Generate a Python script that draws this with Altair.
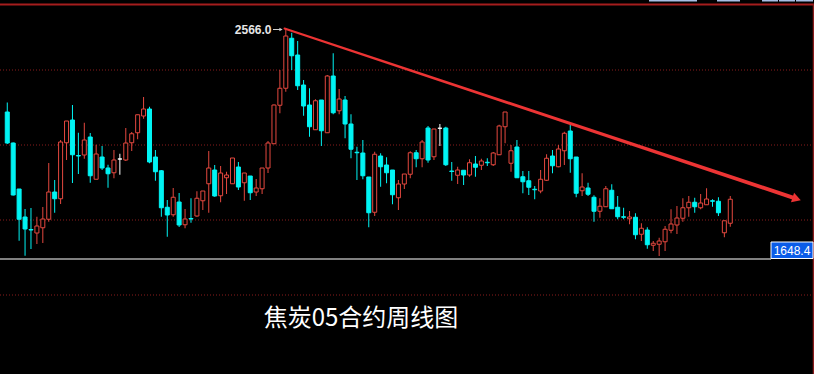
import altair as alt
import pandas as pd

# ---- data (weekly candles) ----
opens = [2232,2108,1924,1812,1762,1748,1769,1803,1912,1885,
         2109,2200,2058,2060,2132,1963,2052,2008,1989,2044,
         2040,2109,2149,2216,2244,2052,1997,1851,1821,1872,
         1781,1806,1816,1877,1945,2000,1897,1969,1945,2012,
         1949,1976,1912,1925,2008,2105,2259,2327,2527,2460,
         2340,2260,2161,2280,2149,2376,2237,2280,2184,2071,
         2068,1972,1831,2056,2020,2000,1889,1944,1983,2069,
         2045,2168,2053,2167,2168,1996,1979,1999,1980,2024,
         2019,2031,2021,2061,2173,2027,2092,1973,1957,1923,
         1916,1959,2056,2013,2077,2156,2052,1917,1928,1891,
         1835,1853,1919,1851,1813,1805,1811,1743,1760,1699,
         1703,1713,1759,1780,1807,1849,1871,1849,1861,1877,
         1875,1749,1787]
closes = [2108,1900,1803,1764,1760,1776,1804,1912,1885,2112,
          2196,2061,2056,2120,1977,2064,2008,1985,2040,2044,
          2108,2145,2221,2244,2032,1993,1849,1820,1891,1780,
          1804,1804,1887,1916,2008,1896,1988,1980,2048,1932,
          1988,1909,1928,2008,2108,2260,2327,2536,2457,2337,
          2256,2173,2277,2157,2376,2229,2284,2184,2083,2069,
          1977,1829,2063,2013,1989,1901,1944,1984,2069,2045,
          2112,2040,2164,2167,2021,1994,2000,1980,2029,2011,
          2036,2029,2068,2176,2232,2077,1969,1953,1931,1921,
          1963,2047,2017,2084,2147,2045,1907,1932,1903,1835,
          1855,1925,1845,1813,1811,1812,1741,1767,1701,1707,
          1716,1763,1784,1808,1849,1871,1853,1868,1884,1875,
          1829,1797,1883]
highs = [2270,2110,1924,1844,1848,1813,1852,2028,1960,2120,
         2196,2260,2149,2189,2148,2101,2096,2021,2080,2065,
         2168,2152,2221,2292,2253,2080,2000,1880,1928,1908,
         1844,1887,1915,1916,2076,2020,2016,1993,2048,2032,
         1988,1976,1964,2008,2116,2262,2400,2566,2549,2516,
         2360,2327,2283,2280,2380,2467,2324,2296,2223,2093,
         2120,1972,2073,2067,2051,2000,1960,1984,2075,2080,
         2120,2176,2164,2184,2173,2032,2013,1999,2043,2056,
         2045,2047,2072,2181,2232,2100,2120,1996,1996,1936,
         2000,2063,2080,2100,2153,2180,2052,1987,1949,1899,
         1887,1936,1943,1896,1849,1836,1827,1787,1771,1716,
         1729,1776,1843,1856,1887,1896,1889,1904,1927,1883,
         1891,1797,1896]
lows = [2104,1898,1717,1657,1684,1704,1708,1793,1829,1864,
        2040,1948,1984,2045,1949,1963,2000,1929,1967,1981,
        2036,2076,2123,2205,2027,1957,1813,1733,1813,1772,
        1767,1789,1813,1840,1829,1893,1871,1904,1945,1920,
        1877,1880,1896,1904,1988,2104,2227,2313,2400,2320,
        2217,2133,2160,2096,2149,2223,2223,2127,2047,1960,
        1963,1771,1816,1933,1947,1863,1840,1924,1967,2011,
        2011,2029,2040,2096,2016,1957,1944,1940,1973,1973,
        2000,2016,2016,2061,2107,1993,1969,1907,1900,1883,
        1907,1956,1987,2011,2020,1989,1891,1896,1896,1793,
        1809,1853,1845,1803,1803,1783,1723,1716,1685,1676,
        1656,1676,1747,1744,1793,1813,1829,1843,1861,1853,
        1816,1731,1773]

grid_prices = [2400, 2100, 1800, 1500]
peak_label = "2566.0"
last_label = "1648.4"
title_text = "焦炭05合约周线图"
trend_idx = [47.78, 133.95]
trend_price = [2566, 1886.6]
trend_width = [2, 4]

RED = "#e5483f"
CYAN = "#00f4f4"
BG = "black"

n = len(opens)
df = pd.DataFrame({
    "i": list(range(1, n + 1)),
    "o": opens, "c": closes, "h": highs, "l": lows,
})
df["dir"] = ["up" if c > o else ("down" if c < o else "flat") for o, c in zip(opens, closes)]

xs = alt.Scale(domain=[0.617, 136.283], nice=False, zero=False)
ys = alt.Scale(domain=[1184, 2680], nice=False, zero=False)
X = lambda f: alt.X(f, type="quantitative", scale=xs, axis=None)
Y = lambda f: alt.Y(f, type="quantitative", scale=ys, axis=None)

stroke_scale = alt.Scale(domain=["up", "down", "flat"], range=[RED, CYAN, "white"])
fill_scale = alt.Scale(domain=["up", "down", "flat"], range=[BG, CYAN, "white"])

base = alt.Chart(df)

grid = alt.Chart(pd.DataFrame({"p": grid_prices})).mark_rule(
    color="#8a1c1c", strokeDash=[1, 2], strokeWidth=1
).encode(y=Y("p"))

one = pd.DataFrame({"a": [0]})
top_line = alt.Chart(one).mark_rule(color="#a51d1d", strokeWidth=2).encode(
    x=alt.value(0), x2=alt.value(814), y=alt.value(4.5))
right_line = alt.Chart(one).mark_rule(color="#8a1c1c", strokeWidth=1.5).encode(
    x=alt.value(813.5), y=alt.value(4), y2=alt.value(374))
white_line = alt.Chart(one).mark_rule(color="white", strokeWidth=1.2).encode(
    x=alt.value(0), x2=alt.value(771), y=alt.value(259))
tabs = alt.layer(*[
    alt.Chart(one).mark_rect(color="#a9bfe6").encode(
        x=alt.value(a), x2=alt.value(b), y=alt.value(0), y2=alt.value(1.5))
    for a, b in [(649, 697), (717, 740), (762, 778), (779, 795), (796, 813)]
])

wicks = base.mark_rule(strokeWidth=1).encode(
    x=X("i"), y=Y("l"), y2="h",
    stroke=alt.Stroke("dir:N", scale=stroke_scale, legend=None))

bodies = base.mark_bar(size=4, strokeWidth=1).encode(
    x=X("i"), y=Y("o"), y2="c",
    fill=alt.Fill("dir:N", scale=fill_scale, legend=None),
    stroke=alt.Stroke("dir:N", scale=stroke_scale, legend=None))

trend_df = pd.DataFrame({"i": trend_idx, "p": trend_price, "w": trend_width})
trend = alt.Chart(trend_df).mark_trail(color="#ec3434").encode(
    x=X("i"), y=Y("p"), size=alt.Size("w:Q", scale=None, legend=None))
head = alt.Chart(pd.DataFrame({"i": [134.2], "p": [1884.8]})).mark_point(
    shape="triangle-right", filled=True, color="#ec3434", size=100, angle=18, opacity=1
).encode(x=X("i"), y=Y("p"))

peak_txt = alt.Chart(pd.DataFrame({"i": [trend_idx[0]], "p": [trend_price[0]], "t": [peak_label]})).mark_text(
    align="right", baseline="middle", dx=-13, dy=1, color="#e6e6e6", fontSize=12,
    fontWeight="bold", font="Liberation Sans"
).encode(x=X("i"), y=Y("p"), text="t:N")
peak_arrow = alt.Chart(one).mark_rule(color="#cfcfcf", strokeWidth=1).encode(
    x=alt.value(273), x2=alt.value(281), y=alt.value(29.5))
peak_head = alt.Chart(one).mark_point(shape="triangle-right", filled=True, color="#cfcfcf",
                                      size=14, opacity=1).encode(
    x=alt.value(281), y=alt.value(29.5))

box = alt.Chart(one).mark_rect(color="#0b5ce8", stroke="white", strokeWidth=1).encode(
    x=alt.value(771), x2=alt.value(813), y=alt.value(242), y2=alt.value(258.5))
box_txt = alt.Chart(pd.DataFrame({"t": [last_label]})).mark_text(
    color="white", fontSize=12, font="Liberation Sans", align="center", baseline="middle"
).encode(x=alt.value(792), y=alt.value(250.5), text="t:N")

title = alt.Chart(pd.DataFrame({"t": [title_text]})).mark_text(
    color="white", fontSize=24, font="Noto Sans CJK SC", align="center", baseline="middle"
).encode(x=alt.value(361), y=alt.value(319), text="t:N")

chart = alt.layer(
    grid, top_line, right_line, white_line, tabs, wicks, bodies, trend, head,
    peak_txt, peak_arrow, peak_head, box, box_txt, title
).properties(
    width=814, height=374, autosize=alt.AutoSizeParams(type="none"), padding=0,
    background=BG
).configure_view(stroke=None)

chart.save("out.html", embed_options={"renderer": "svg", "actions": False})
